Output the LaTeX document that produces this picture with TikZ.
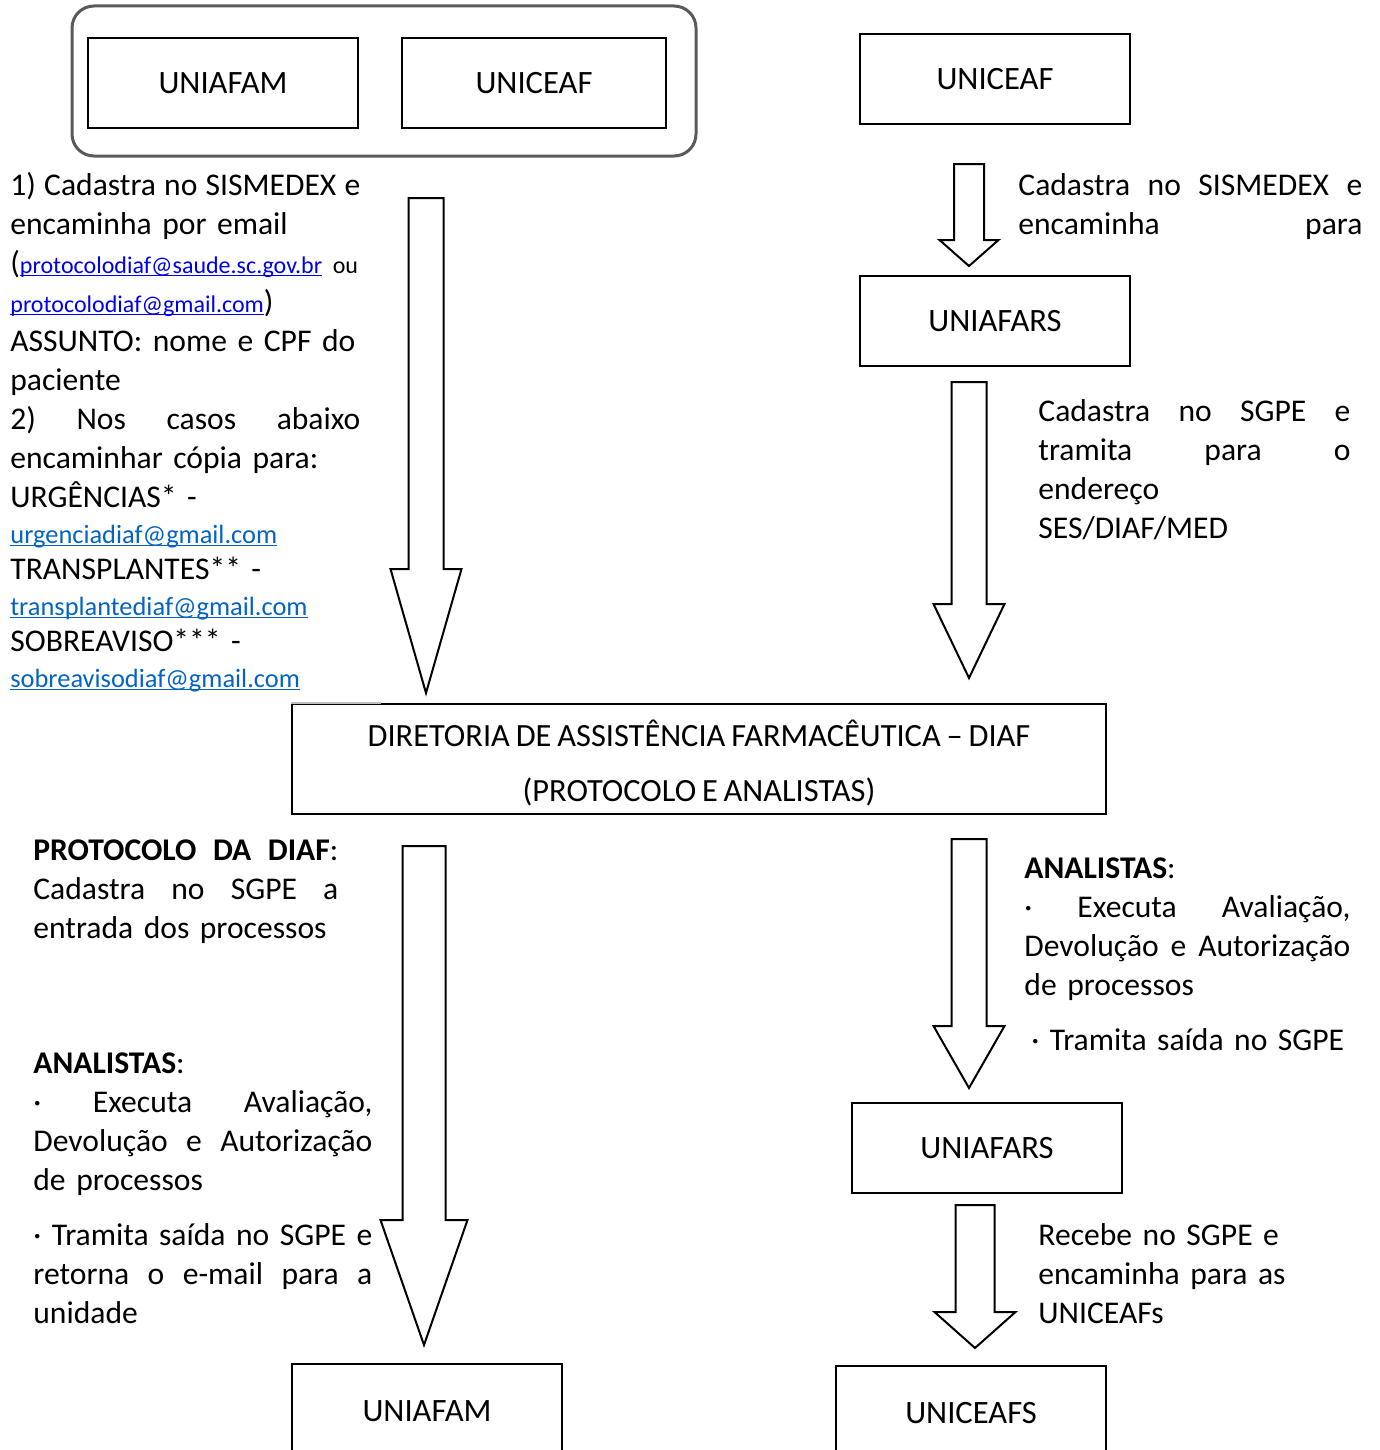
\documentclass[tikz,border=0pt]{standalone}
\usepackage{fontspec}
\setmainfont{Carlito}[WordSpace=0.8]
\usetikzlibrary{calc}

\definecolor{framegray}{RGB}{90,90,90}
\definecolor{mailblue}{RGB}{0,0,238}
\definecolor{linkblue}{RGB}{5,99,193}

\newsavebox\mailbox
\newcommand{\mailto}[3]{\leavevmode\sbox\mailbox{\color{#2}\fontsize{#1}{#1}\selectfont #3}{\color{#2}\rlap{\rule[-1.4pt]{\wd\mailbox}{0.6pt}}}\usebox\mailbox}
% justified line: width, words
\newcommand{\spread}[2]{\leavevmode\hbox to #1{\spaceskip=\fontdimen2\font plus 1fil\relax #2}}

% tail, tip, shaft half width, head half width, head length
\newcommand{\blockarrow}[5]{\draw[arrowline] ($(#1)+(-#3,0)$) -- ($(#2)+(-#3,-#5)$) -- ($(#2)+(-#4,-#5)$) -- (#2) -- ($(#2)+(#4,-#5)$) -- ($(#2)+(#3,-#5)$) -- ($(#1)+(#3,0)$) -- cycle;}

\def\groupframe{(72,6) rectangle (696,156)}

\tikzset{
  unitbox/.style={draw, line width=1pt, minimum width=135pt, minimum height=45pt, inner sep=0pt,
                  font=\fontsize{16.3}{19.5}\selectfont},
  arrowline/.style={line width=1pt, fill=white},
  notes/.style={anchor=base west, inner sep=0pt, align=left, text width=#1},
}

\begin{document}
\begin{tikzpicture}[x=0.5pt, y=-0.5pt, font=\fontsize{15.8}{19.5}\selectfont]
    \useasboundingbox (0,0) rectangle (1380,1450);

    \draw[framegray, line width=1.5pt, rounded corners=11pt] \groupframe;

    % units
    \node[unitbox] (uniafam) at (223,83) {UNIAFAM};
    \node[unitbox, minimum width=132pt] (uniceafL) at (534,83) {UNICEAF};
    \node[unitbox] (uniceafR) at (995,79) {UNICEAF};
    \node[unitbox] (uniafars) at (995,321) {UNIAFARS};
    \node[unitbox, minimum width=407pt, minimum height=55pt] (diaf) at (699,759) {};
    \draw[gray!50, line width=1pt] (diaf.north west) -- ++(90,0);
    \node[align=center, inner sep=0pt, font=\fontsize{16.2}{19.5}\selectfont] (diaftext) at ($(diaf.center)+(0,4)$)
        {DIRETORIA DE ASSISTÊNCIA FARMACÊUTICA – DIAF\\[8pt](PROTOCOLO E ANALISTAS)};
    \node[unitbox] (uniafarsB) at (987,1148) {UNIAFARS};
    \node[unitbox, minimum height=47pt] (uniafamB) at (427,1411) {UNIAFAM};
    \node[unitbox, minimum height=47pt] (uniceafs) at (971,1413) {UNICEAFS};

    % arrows
    \coordinate (a1top) at (426,198);  \coordinate (a1tip) at (426,693);
    \coordinate (a2top) at (969,164);  \coordinate (a2tip) at (969,266);
    \coordinate (a3top) at (969,382);  \coordinate (a3tip) at (969,678);
    \coordinate (a4top) at (424,846);  \coordinate (a4tip) at (424,1345);
    \coordinate (a5top) at (969,839);  \coordinate (a5tip) at (969,1088);
    \coordinate (a6top) at (975,1205); \coordinate (a6tip) at (975,1348);
    \blockarrow{a1top}{a1tip}{17.5}{35.5}{124}
    \blockarrow{a2top}{a2tip}{15}{29.5}{26}
    \blockarrow{a3top}{a3tip}{17.5}{35.5}{74}
    \blockarrow{a4top}{a4tip}{21.5}{43.5}{125}
    \blockarrow{a5top}{a5tip}{17.5}{35.5}{62}
    \blockarrow{a6top}{a6tip}{19.5}{40.5}{36}

    % texts
    \node[notes=175pt] (sendmail) at (10,195) {%
        \spread{175pt}{1) Cadastra no SISMEDEX e}\\
        encaminha por email\\
        (\mailto{12}{mailblue}{protocolodiaf@saude.sc.gov.br} {\fontsize{12}{12}\selectfont ou}\\
        \mailto{12}{mailblue}{protocolodiaf@gmail.com})\\
        ASSUNTO: nome e CPF do\\
        paciente\\
        \spread{175pt}{2) Nos casos abaixo}\\
        encaminhar cópia para:\\
        URGÊNCIAS* -\\[-1.5pt]
        \mailto{13.2}{linkblue}{urgenciadiaf@gmail.com}\\[-1.5pt]
        TRANSPLANTES** -\\[-1.5pt]
        \mailto{13.2}{linkblue}{transplantediaf@gmail.com}\\[-1.5pt]
        SOBREAVISO*** -\\[-1.5pt]
        \mailto{13.2}{linkblue}{sobreavisodiaf@gmail.com}};
    \node[notes=172pt] (sendsgpe) at (1018,195) {%
        \spread{172pt}{Cadastra no SISMEDEX e}\\
        \spread{172pt}{encaminha para}};
    \node[notes=156pt] (tramita) at (1038,421) {%
        \spread{156pt}{Cadastra no SGPE e}\\
        \spread{156pt}{tramita para o}\\
        endereço\\
        SES/DIAF/MED};
    \node[notes=152.5pt] (protocolo) at (33,860) {%
        \spread{152.5pt}{\textbf{PROTOCOLO DA DIAF}:}\\
        \spread{152.5pt}{Cadastra no SGPE a}\\
        entrada dos processos};
    \node[notes=169.5pt] (analistasL) at (33,1073) {%
        \textbf{ANALISTAS}:\\
        \spread{169.5pt}{· Executa Avaliação,}\\
        \spread{169.5pt}{Devolução e Autorização}\\
        de processos\\[8pt]
        \spread{169.5pt}{· Tramita saída no SGPE e}\\
        \spread{169.5pt}{retorna o e-mail para a}\\
        unidade};
    \node[notes=163pt] (analistasR) at (1024,878) {%
        \textbf{ANALISTAS}:\\
        \spread{163pt}{· Executa Avaliação,}\\
        \spread{163pt}{Devolução e Autorização}\\
        de processos\\[8pt]
        \hspace*{3.5pt}· Tramita saída no SGPE};
    \node[notes=160pt] (recebe) at (1038,1245) {%
        Recebe no SGPE e\\
        encaminha para as\\
        UNICEAFs};

\end{tikzpicture}
\end{document}
